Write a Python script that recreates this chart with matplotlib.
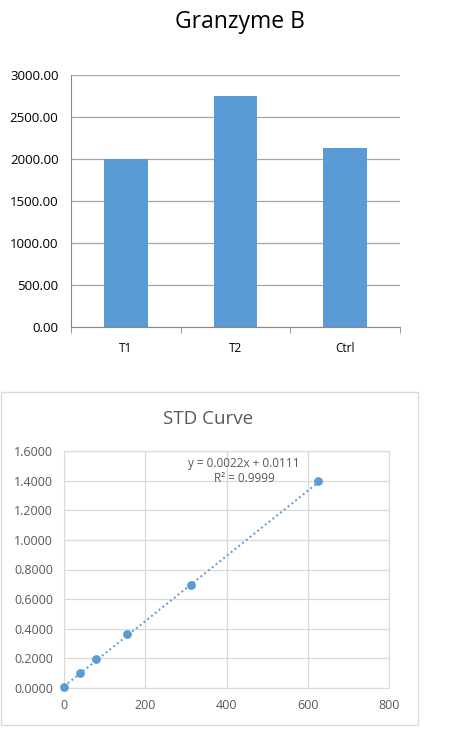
import matplotlib.pyplot as plt
from matplotlib.patches import Rectangle

plt.rcParams['font.family'] = ['Open Sans', 'DejaVu Sans']

# bar chart data
groups = ['T1', 'T2', 'Ctrl']
granzyme = [2000, 2750, 2130]
bar_ticks = [0, 500, 1000, 1500, 2000, 2500, 3000]

# standard curve data
std_conc = [0, 39, 78, 156, 312.5, 625]
std_abs = [0.010, 0.100, 0.195, 0.365, 0.695, 1.400]
slope, intercept = 0.0022, 0.0111
std_yticks = [0, 0.2, 0.4, 0.6, 0.8, 1.0, 1.2, 1.4, 1.6]
std_xticks = [0, 200, 400, 600, 800]

blue = '#5B9BD5'
W, H = 455, 744
fig = plt.figure(figsize=(W / 100, H / 100), dpi=100)


def box(l, t, r, b):
    return [l / W, 1 - b / H, (r - l) / W, (b - t) / H]


# ---- top: Granzyme B ----
ax = fig.add_axes(box(71, 75, 400, 327))
x = range(len(groups))
ax.bar(x, granzyme, width=0.4, color=blue, zorder=2)
ax.set_xlim(-0.5, 2.5)
ax.set_ylim(0, 3000)
ax.set_yticks(bar_ticks, [f'{v:.2f}' for v in bar_ticks], fontsize=9.5)
ax.set_xticks(list(x), groups, fontsize=8.5)
ax.tick_params(axis='x', length=0, pad=11)
ax.tick_params(axis='y', length=0, pad=9)
ax.set_xticks([-0.5, 0.5, 1.5, 2.5], minor=True)
ax.tick_params(axis='x', which='minor', length=4, color='#888888', direction='out')
ax.grid(axis='y', color='#A6A6A6', lw=0.9, zorder=0)
for s in ['top', 'right']:
    ax.spines[s].set_visible(False)
ax.spines['left'].set_color('#888888')
ax.spines['bottom'].set_color('#888888')
fig.text(240 / W, 1 - 22 / H, 'Granzyme B', ha='center', va='center', fontsize=16.5)

# ---- bottom: STD Curve ----
fig.add_artist(Rectangle((1 / W, 1 - 725 / H), 417 / W, 333 / H,
                         transform=fig.transFigure, fill=False,
                         ec='#D9D9D9', lw=1))
ax2 = fig.add_axes(box(64, 451, 389, 688))
ax2.set_xlim(0, 800)
ax2.set_ylim(0, 1.6)
ax2.set_xticks(std_xticks, [str(v) for v in std_xticks], fontsize=9, color='#595959')
ax2.set_yticks(std_yticks, [f'{v:.4f}' for v in std_yticks], fontsize=9, color='#595959')
ax2.tick_params(length=0, pad=8)
ax2.grid(color='#D9D9D9', lw=0.9, zorder=0)
for s in ax2.spines.values():
    s.set_color('#D9D9D9')
xs = [min(std_conc), max(std_conc)]
ax2.plot(xs, [slope * v + intercept for v in xs], ls=(0, (1, 1.5)),
         color=blue, lw=1.4, zorder=2)
ax2.scatter(std_conc, std_abs, s=28, color=blue, zorder=3, clip_on=False)
ax2.text(443, 1.37, f'y = {slope:.4f}x + {intercept:.4f}\nR² = 0.9999',
         ha='center', va='bottom', fontsize=8.5, color='#595959', linespacing=1.2)
fig.text(208 / W, 1 - 419 / H, 'STD Curve', ha='center', va='center',
         fontsize=13.5, color='#595959')

fig.savefig('out.png', dpi=100)
